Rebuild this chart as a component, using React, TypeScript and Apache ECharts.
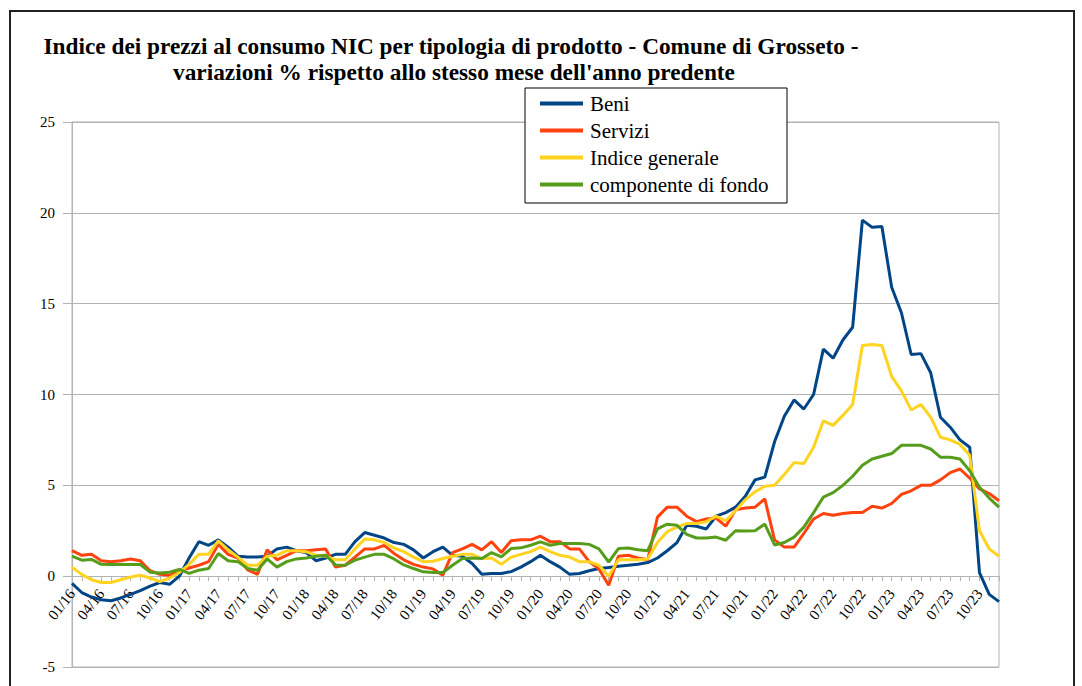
import React, { useEffect, useRef } from "react";
import * as echarts from "echarts";

const months = [
  "01/16","02/16","03/16","04/16","05/16","06/16","07/16","08/16","09/16","10/16","11/16","12/16",
  "01/17","02/17","03/17","04/17","05/17","06/17","07/17","08/17","09/17","10/17","11/17","12/17",
  "01/18","02/18","03/18","04/18","05/18","06/18","07/18","08/18","09/18","10/18","11/18","12/18",
  "01/19","02/19","03/19","04/19","05/19","06/19","07/19","08/19","09/19","10/19","11/19","12/19",
  "01/20","02/20","03/20","04/20","05/20","06/20","07/20","08/20","09/20","10/20","11/20","12/20",
  "01/21","02/21","03/21","04/21","05/21","06/21","07/21","08/21","09/21","10/21","11/21","12/21",
  "01/22","02/22","03/22","04/22","05/22","06/22","07/22","08/22","09/22","10/22","11/22","12/22",
  "01/23","02/23","03/23","04/23","05/23","06/23","07/23","08/23","09/23","10/23","11/23","12/23",
];

const beni = [
  -0.4,-0.9,-1.15,-1.3,-1.35,-1.2,-1.0,-0.8,-0.55,-0.35,-0.45,0.0,
  1.0,1.9,1.7,2.0,1.6,1.1,1.05,1.05,1.1,1.5,1.6,1.4,
  1.3,0.85,1.0,1.2,1.2,1.9,2.4,2.25,2.1,1.85,1.75,1.45,
  1.0,1.35,1.6,1.15,1.1,0.7,0.1,0.15,0.15,0.25,0.5,0.8,
  1.15,0.8,0.5,0.1,0.15,0.3,0.42,0.48,0.55,0.6,0.66,0.75,
  1.0,1.4,1.85,2.8,2.75,2.6,3.3,3.5,3.8,4.4,5.3,5.45,
  7.4,8.8,9.7,9.2,10.0,12.5,12.0,13.0,13.7,19.6,19.2,19.25,
  15.9,14.5,12.2,12.25,11.2,8.75,8.2,7.5,7.1,0.2,-1.0,-1.4,
];

const servizi = [
  1.4,1.15,1.2,0.85,0.8,0.85,0.95,0.85,0.3,0.1,0.05,0.3,
  0.45,0.6,0.8,1.75,1.2,1.0,0.35,0.1,1.45,0.9,1.15,1.4,
  1.4,1.45,1.5,0.5,0.6,1.05,1.5,1.5,1.7,1.25,0.9,0.65,
  0.5,0.4,0.05,1.3,1.5,1.75,1.45,1.9,1.3,1.95,2.0,2.0,
  2.2,1.9,1.9,1.5,1.5,0.8,0.4,-0.5,1.1,1.15,1.0,0.9,
  3.25,3.8,3.8,3.3,3.0,3.15,3.2,2.75,3.65,3.75,3.8,4.25,
  2.0,1.6,1.6,2.35,3.15,3.45,3.35,3.45,3.5,3.5,3.85,3.75,
  4.0,4.5,4.7,5.0,5.0,5.3,5.7,5.9,5.4,4.8,4.55,4.15,
];

const indiceGenerale = [
  0.5,0.1,-0.2,-0.35,-0.35,-0.2,-0.05,0.05,-0.1,-0.3,-0.1,0.2,
  0.65,1.2,1.2,1.95,1.45,1.05,0.6,0.6,1.1,1.15,1.4,1.4,
  1.35,1.15,1.1,0.9,0.9,1.5,2.05,2.0,1.85,1.55,1.35,1.05,
  0.8,0.82,0.97,1.1,1.2,1.2,0.97,1.0,0.65,1.05,1.2,1.35,
  1.6,1.35,1.15,1.05,0.8,0.8,0.6,0.0,0.9,0.9,0.9,0.95,
  1.85,2.45,2.7,2.9,2.9,3.0,3.3,3.05,3.6,4.2,4.65,4.95,
  5.0,5.6,6.25,6.2,7.1,8.55,8.3,8.85,9.45,12.7,12.75,12.7,
  11.0,10.2,9.15,9.45,8.75,7.65,7.5,7.25,6.65,2.5,1.5,1.1,
];

const componenteDiFondo = [
  1.1,0.88,0.92,0.65,0.64,0.64,0.64,0.64,0.22,0.18,0.22,0.37,
  0.15,0.33,0.42,1.25,0.85,0.8,0.42,0.33,0.95,0.5,0.8,0.95,
  1.0,1.1,1.15,0.62,0.6,0.88,1.05,1.2,1.2,0.95,0.62,0.42,
  0.24,0.2,0.2,0.6,0.97,1.0,0.97,1.3,1.06,1.52,1.56,1.7,
  1.89,1.7,1.8,1.8,1.8,1.75,1.5,0.78,1.52,1.55,1.45,1.4,
  2.6,2.86,2.8,2.3,2.1,2.1,2.15,1.98,2.5,2.48,2.5,2.87,
  1.72,1.85,2.15,2.7,3.5,4.35,4.6,5.0,5.5,6.1,6.45,6.6,
  6.75,7.2,7.2,7.2,7.0,6.55,6.55,6.45,5.8,4.9,4.3,3.8,
];

const seriesNames = ["Beni", "Servizi", "Indice generale", "componente di fondo"];
const seriesColors = ["#004586", "#ff420e", "#ffd320", "#579d1c"];
const seriesData = [beni, servizi, indiceGenerale, componenteDiFondo];

const titleLine1 = "Indice dei prezzi al consumo NIC per tipologia di prodotto - Comune di Grosseto -";
const titleLine2 = "variazioni % rispetto allo stesso mese dell'anno predente";

const SERIF = "'Liberation Serif', 'Times New Roman', serif";

export default function App() {
  const ref = useRef<HTMLDivElement>(null);
  useEffect(() => {
    const chart = echarts.init(ref.current!, null, { renderer: "svg" });
    chart.setOption({
      animation: false,
      backgroundColor: "#ffffff",
      grid: {
        left: 72,
        right: 83,
        top: 122,
        bottom: 19,
        containLabel: false,
        outerBoundsMode: "none",
        show: true,
        borderColor: "#b3b3b3",
        borderWidth: 1,
      },
      graphic: [
        {
          type: "rect",
          shape: { x: 10, y: 11, width: 1064, height: 700 },
          style: { fill: "none", stroke: "#222", lineWidth: 2 },
          z: 1,
        },
        {
          type: "text",
          x: 451,
          y: 46,
          style: {
            text: titleLine1,
            fontFamily: SERIF,
            fontWeight: "bold",
            fontSize: 23.3,
            fill: "#000",
            textAlign: "center",
            textVerticalAlign: "middle",
          },
        },
        {
          type: "text",
          x: 454,
          y: 72,
          style: {
            text: titleLine2,
            fontFamily: SERIF,
            fontWeight: "bold",
            fontSize: 23.3,
            fill: "#000",
            textAlign: "center",
            textVerticalAlign: "middle",
          },
        },
        {
          type: "rect",
          shape: { x: 525, y: 88, width: 262, height: 115 },
          style: { fill: "#fff", stroke: "#000", lineWidth: 1 },
          z: 3,
        },
      ],
      legend: {
        orient: "vertical",
        left: 535,
        top: 88,
        z: 5,
        icon: "rect",
        itemWidth: 43,
        itemHeight: 4,
        itemGap: 6,
        textStyle: { fontFamily: SERIF, fontSize: 21, color: "#000", padding: [0, 0, 0, 2] },
        data: seriesNames,
      },
      xAxis: {
        type: "category",
        data: months,
        boundaryGap: false,
        position: "bottom",
        offset: -91,
        axisLine: { onZero: false, lineStyle: { color: "#b3b3b3", width: 1 } },
        axisTick: { show: true, interval: 0, length: 5, lineStyle: { color: "#b3b3b3" } },
        axisLabel: {
          interval: 2,
          rotate: 52,
          margin: 15,
          fontFamily: SERIF,
          fontSize: 15,
          color: "#000",
        },
        splitLine: { show: false },
      },
      yAxis: {
        type: "value",
        min: -5,
        max: 25,
        interval: 5,
        axisLine: { show: true, lineStyle: { color: "#b3b3b3" } },
        axisTick: { show: true, length: 9, lineStyle: { color: "#b3b3b3" } },
        axisLabel: { margin: 17, fontFamily: SERIF, fontSize: 15, color: "#000" },
        splitLine: { show: true, lineStyle: { color: "#b3b3b3", width: 1 } },
      },
      series: seriesNames.map((name, k) => ({
        name,
        type: "line",
        data: seriesData[k],
        showSymbol: false,
        symbol: "none",
        color: seriesColors[k],
        lineStyle: { width: 3, color: seriesColors[k] },
      })),
    });
    return () => chart.dispose();
  }, []);
  return (
    <div
      ref={ref}
      style={{ position: "fixed", left: 0, top: 0, width: 1082, height: 686, background: "#fff" }}
    />
  );
}
